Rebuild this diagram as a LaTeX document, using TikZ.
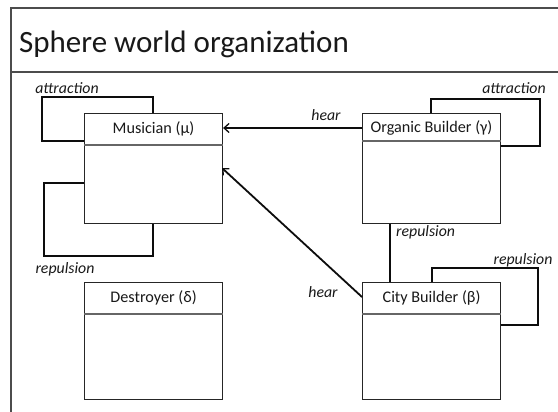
\documentclass[tikz,border=0pt]{standalone}
\usepackage{fontspec}
\setmainfont{Carlito}
\usetikzlibrary{arrows.meta,calc}
\begin{document}
\begin{tikzpicture}[x=1pt,y=-1pt,
  frame/.style={draw=black!70, line width=1.1pt},
  box/.style={draw=black!85, line width=1.1pt, fill=white, minimum width=138pt, anchor=north west, inner sep=0pt},
  hdr/.style={draw=black!60, line width=1.1pt},
  boxtext/.style={font=\fontsize{16.2}{19}\selectfont, text=black!90, inner sep=0pt},
  lbl/.style={font=\itshape\fontsize{15.8}{18}\selectfont, text=black!90, inner sep=0pt},
  link/.style={draw=black!95, line width=1.8pt},
  arr/.style={link, -{Straight Barb[length=5pt,width=9pt,line width=1.3pt]}}
]
\useasboundingbox (0,0) rectangle (558,412);
\fill[white] (0,0) rectangle (558,412);
% outer frame
\draw[frame] (558,8) -- (11,8) -- (11,412);
\draw[frame] (11,72) -- (558,72);
\node[anchor=west, font=\fontsize{31}{36}\selectfont, text=black!90, inner sep=0pt] (title) at (19,44) {Sphere world organization};

% boxes
\node[box, minimum height=110pt] (mu) at (84,113) {};
\draw[hdr] ([yshift=-32pt]mu.north west) -- ([yshift=-32pt]mu.north east);
\node[boxtext] (mut) at ($(mu.north)+(0,16)$) {Musician (μ)};

\node[box, minimum height=110pt] (ga) at (362,113) {};
\draw[hdr] ([yshift=-28pt]ga.north west) -- ([yshift=-28pt]ga.north east);
\node[boxtext] (gat) at ($(ga.north)+(0,15)$) {Organic Builder (γ)};

\node[box, minimum height=117pt] (de) at (84,282) {};
\draw[hdr] ([yshift=-32pt]de.north west) -- ([yshift=-32pt]de.north east);
\node[boxtext] (det) at ($(de.north)+(0,16)$) {Destroyer (δ)};

\node[box, minimum height=117pt] (be) at (362,282) {};
\draw[hdr] ([yshift=-32pt]be.north west) -- ([yshift=-32pt]be.north east);
\node[boxtext] (bet) at ($(be.north)+(0,16)$) {City Builder (β)};

% self loops
\coordinate (muA1) at (153,97);
\coordinate (muA2) at (42,141);
\draw[link] ([xshift=69pt]mu.north west) -- (muA1) -| (muA2) -- (mu.west |- muA2);
\coordinate (muR1) at (44,183);
\coordinate (muR2) at (153,256);
\draw[link] (mu.west |- muR1) -- (muR1) |- (muR2) -- (muR2 |- mu.south);

\coordinate (gaA1) at (540,99);
\coordinate (gaA2) at (540,146);
\draw[link] ([xshift=69pt]ga.north west) |- (gaA1) -- (gaA2) -- (ga.east |- gaA2);

\coordinate (beR1) at (538,268);
\coordinate (beR2) at (538,325);
\draw[link] ([xshift=70pt]be.north west) |- (beR1) -- (beR2) -- (be.east |- beR2);

% connectors
\coordinate (h1) at (362,128);
\draw[arr] (h1) -- (mu.east |- h1);
\coordinate (h2s) at (362,297);
\coordinate (h2e) at (222,168);
\draw[arr] (h2s) -- (h2e);
\draw[link] ([xshift=28pt]ga.south west) -- ([xshift=28pt]be.north west);

% labels
\node[lbl] (l1) at (67,88) {attraction};
\node[lbl] (l2) at (514,88) {attraction};
\node[lbl] (l3) at (326,115) {hear};
\node[lbl, anchor=west] (l4) at (396,232) {repulsion};
\node[lbl] (l5) at (523,260) {repulsion};
\node[lbl] (l6) at (65,269) {repulsion};
\node[lbl] (l7) at (323,292) {hear};
\end{tikzpicture}
\end{document}
